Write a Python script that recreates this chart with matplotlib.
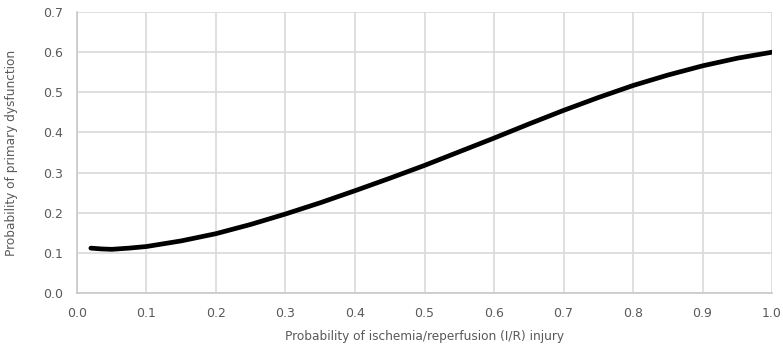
import matplotlib
matplotlib.use("Agg")
import matplotlib.pyplot as plt

# curve
p_ir = [0.02, 0.035, 0.05, 0.075, 0.10, 0.15, 0.20, 0.25, 0.30, 0.35, 0.40, 0.45, 0.50,
        0.55, 0.60, 0.65, 0.70, 0.75, 0.80, 0.85, 0.90, 0.95, 1.00]
p_pd = [0.112, 0.110, 0.109, 0.112, 0.116, 0.130, 0.148, 0.171, 0.197, 0.225, 0.255, 0.286, 0.318,
        0.352, 0.386, 0.421, 0.455, 0.487, 0.517, 0.543, 0.566, 0.585, 0.600]

x_ticks = [0.0, 0.1, 0.2, 0.3, 0.4, 0.5, 0.6, 0.7, 0.8, 0.9, 1.0]
y_ticks = [0.0, 0.1, 0.2, 0.3, 0.4, 0.5, 0.6, 0.7]

txt = '#595959'

fig = plt.figure(figsize=(7.83, 3.44), dpi=100)
ax = fig.add_axes([0.0983, 0.148, 0.8877, 0.817])

ax.plot(p_ir, p_pd, color='black', lw=3.4, solid_capstyle='round',
        solid_joinstyle='round', zorder=3)

ax.set_xlim(0, 1.0)
ax.set_ylim(0, 0.7)
ax.set_xticks(x_ticks)
ax.set_yticks(y_ticks)
ax.set_xticklabels([f"{v:.1f}" for v in x_ticks])
ax.set_yticklabels([f"{v:.1f}" for v in y_ticks])
ax.tick_params(length=0, labelsize=9, colors=txt, pad=10)
ax.tick_params(axis='y', pad=10)

ax.grid(True, color='#d9d9d9', lw=1.2)
ax.set_axisbelow(True)
for s in ['top', 'right']:
    ax.spines[s].set_visible(False)
for s in ['left', 'bottom']:
    ax.spines[s].set_color('#c8c8c8')
    ax.spines[s].set_linewidth(1.2)

ax.set_xlabel('Probability of ischemia/reperfusion (I/R) injury', fontsize=8.7, color=txt, labelpad=7)
ax.set_ylabel('Probability of primary dysfunction', fontsize=8.7, color=txt, labelpad=18)

fig.savefig('out.png', dpi=100)
